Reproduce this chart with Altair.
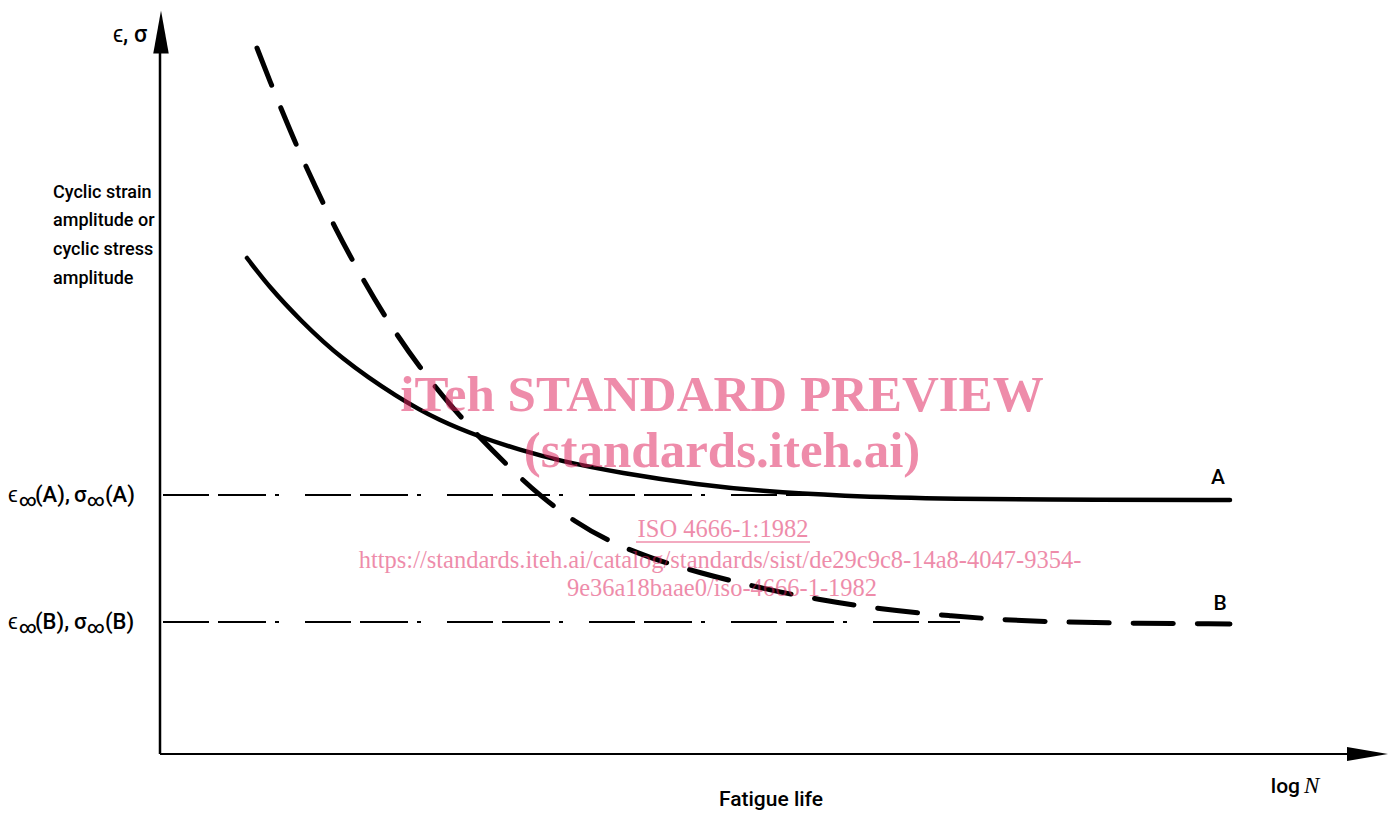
import altair as alt
import pandas as pd

# ---------------- data (arbitrary units: x = log N, y = amplitude) ----------------
a_logN = [8.7, 11.0, 14.0, 18.0, 23.8, 28.0, 32.0, 36.0, 40.0, 46.0, 54.0, 60.0, 68.0, 79.0, 94.0, 107.0]
a_amp = [49.6, 46.6, 43.4, 39.6, 35.6, 33.3, 31.7, 30.4, 29.3, 28.1, 26.9, 26.3, 25.8, 25.5, 25.4, 25.4]

b_logN = [9.7, 11.1, 12.5, 13.8, 15.5, 17.5, 20.2, 23.0, 26.0, 29.0, 32.0, 35.0, 38.0, 41.5,
          45.0, 49.0, 54.0, 60.0, 66.0, 72.0, 79.0, 86.0, 94.0, 107.0]
b_amp = [70.6, 67.0, 63.6, 60.5, 56.8, 52.6, 47.6, 42.9, 38.6, 34.9, 31.6, 28.6, 25.8, 23.2,
         21.2, 19.6, 18.1, 16.6, 15.4, 14.5, 13.8, 13.3, 13.1, 13.0]

limit_names = ["A", "B"]
limit_levels = [25.9, 13.2]
limit_from = [0.3, 0.3]
limit_to = [68.0, 80.0]

axis_x_end = 118.7
axis_y_end = 70.1

# left-hand label
ylabel_lines = ["Cyclic strain", "amplitude or", "cyclic stress", "amplitude"]
ylabel_x = [-10.7, -10.7, -10.7, -10.7]
ylabel_y = [56.1, 53.3, 50.4, 47.5]

# limit labels, built from pieces
lim_text = ["ϵ", "(A),", "σ", "(A)", "ϵ", "(B),", "σ", "(B)"]
lim_x = [-15.2, -12.5, -8.6, -5.5, -15.2, -12.5, -8.6, -5.5]
lim_y = [25.9, 25.9, 25.9, 25.9, 13.2, 13.2, 13.2, 13.2]
inf_text = ["∞", "∞", "∞", "∞"]
inf_x = [-14.1, -7.3, -14.1, -7.3]
inf_y = [25.3, 25.3, 12.6, 12.6]

curve_labels = ["A", "B"]
curve_label_x = [105.8, 106.0]
curve_label_y = [27.6, 15.0]

# watermark
wm_big = ["iTeh STANDARD PREVIEW", "(standards.iteh.ai)"]
wm_big_x = [56.2, 56.2]
wm_big_y = [34.3, 28.7]
wm_small = ["ISO 4666-1:1982",
            "https://standards.iteh.ai/catalog/standards/sist/de29c9c8-14a8-4047-9354-",
            "9e36a18baae0/iso-4666-1-1982"]
wm_small_x = [56.3, 56.0, 56.2]
wm_small_y = [21.7, 18.6, 15.8]
underline_x = [47.6]
underline_x2 = [65.0]
underline_y = [21.2]

# ---------------- scales ----------------
xs = alt.Scale(domain=[-15.2, 123.1], nice=False, zero=False)
ys = alt.Scale(domain=[-5.8, 74.6], nice=False, zero=False)


def X(f="x"):
    return alt.X(f"{f}:Q", scale=xs, axis=None)


def Y(f="y"):
    return alt.Y(f"{f}:Q", scale=ys, axis=None)


SANS = "Roboto, Liberation Sans"
INK = "#000000"
PINK = "#e0245e"

# ---------------- layers ----------------
lim_df = pd.DataFrame({"name": limit_names, "y": limit_levels, "x": limit_from, "x2": limit_to})
limits = alt.Chart(lim_df).mark_rule(color=INK, strokeWidth=2,
                                     strokeDash=[46, 9, 48, 9, 4, 26]).encode(
    x=X(), x2="x2:Q", y=Y(), detail="name:N")

a_df = pd.DataFrame({"x": a_logN, "y": a_amp})
curve_a = alt.Chart(a_df).mark_line(color=INK, strokeWidth=4.5, strokeCap="round",
                                    interpolate="basis").encode(x=X(), y=Y())

b_df = pd.DataFrame({"x": b_logN, "y": b_amp})
curve_b = alt.Chart(b_df).mark_line(color=INK, strokeWidth=5, strokeCap="round",
                                    strokeDash=[40, 24], interpolate="basis").encode(x=X(), y=Y())

yax = alt.Chart(pd.DataFrame({"x": [0.0], "y": [0.0], "y2": [axis_y_end]})).mark_rule(
    color=INK, strokeWidth=2.5).encode(x=X(), y=Y(), y2="y2:Q")
xax = alt.Chart(pd.DataFrame({"x": [0.0], "x2": [axis_x_end], "y": [0.0]})).mark_rule(
    color=INK, strokeWidth=2).encode(x=X(), x2="x2:Q", y=Y())

up_arrow = alt.Chart(pd.DataFrame({"x": [0.1], "y": [72.2]})).mark_point(
    shape="M0,-1L0.36,1L-0.36,1Z", filled=True, size=1849, color=INK, opacity=1,
    strokeWidth=0).encode(x=X(), y=Y())
right_arrow = alt.Chart(pd.DataFrame({"x": [120.75], "y": [0.0]})).mark_point(
    shape="M1,0L-1,0.34L-1,-0.34Z", filled=True, size=1681, color=INK, opacity=1,
    strokeWidth=0).encode(x=X(), y=Y())


def text_layer(df, font=SANS, size=19, align="left", baseline="middle", color=INK,
               style="normal", weight=500, opacity=1.0):
    return alt.Chart(df).mark_text(font=font, fontSize=size, align=align, baseline=baseline,
                                   color=color, fontStyle=style, fontWeight=weight,
                                   opacity=opacity).encode(x=X(), y=Y(), text="t:N")


t_eps_sigma = text_layer(pd.DataFrame({"t": ["ϵ, σ"], "x": [-1.3], "y": [71.9]}),
                         size=23, align="right")
t_ylabel = text_layer(pd.DataFrame({"t": ylabel_lines, "x": ylabel_x, "y": ylabel_y}), size=18)
t_lim = text_layer(pd.DataFrame({"t": lim_text, "x": lim_x, "y": lim_y}), size=22)
t_inf = text_layer(pd.DataFrame({"t": inf_text, "x": inf_x, "y": inf_y}), size=17)
t_curves = text_layer(pd.DataFrame({"t": curve_labels, "x": curve_label_x, "y": curve_label_y}),
                      size=21, align="center")
t_log = text_layer(pd.DataFrame({"t": ["log"], "x": [114.0], "y": [-3.9]}), size=21,
                   align="right", baseline="alphabetic")
t_N = text_layer(pd.DataFrame({"t": ["N"], "x": [114.4], "y": [-3.9]}), font="Liberation Serif",
                 size=23, style="italic", weight="normal", baseline="alphabetic")
t_fatigue = text_layer(pd.DataFrame({"t": ["Fatigue life"], "x": [61.1], "y": [-4.6]}),
                       size=21, align="center")

wm1 = text_layer(pd.DataFrame({"t": wm_big, "x": wm_big_x, "y": wm_big_y}),
                 font="Liberation Serif", size=51, weight="bold", align="center",
                 baseline="alphabetic", color=PINK, opacity=0.52)
wm2 = text_layer(pd.DataFrame({"t": wm_small, "x": wm_small_x, "y": wm_small_y}),
                 font="Liberation Serif", size=24.5, weight="normal", align="center",
                 baseline="alphabetic", color=PINK, opacity=0.52)
wm_ul = alt.Chart(pd.DataFrame({"x": underline_x, "x2": underline_x2, "y": underline_y})).mark_rule(
    color=PINK, opacity=0.52, strokeWidth=1.5).encode(x=X(), x2="x2:Q", y=Y())

chart = alt.layer(
    limits, curve_a, curve_b, yax, xax, up_arrow, right_arrow,
    t_eps_sigma, t_ylabel, t_lim, t_inf, t_curves, t_log, t_N, t_fatigue,
    wm1, wm2, wm_ul,
).properties(
    width=1383, height=804,
    autosize=alt.AutoSizeParams(type="none"),
    padding=0,
    background="white",
).configure_view(stroke=None)

chart.save("out.html", embed_options={"renderer": "svg", "actions": False})
